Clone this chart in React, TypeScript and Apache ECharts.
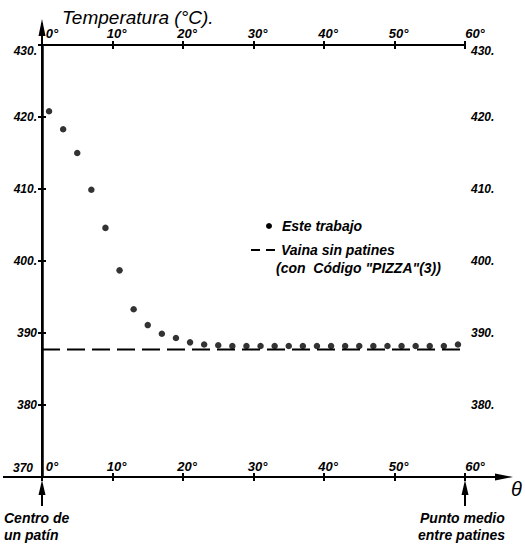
import React, { useEffect, useRef } from "react";
import * as echarts from "echarts";

// Angular position (degrees) and temperature (°C) — "Este trabajo"
const thetaDeg = [1, 3, 5, 7, 9, 11, 13, 15, 17, 19, 21, 23, 25, 27, 29, 31, 33, 35, 37, 39, 41, 43, 45, 47, 49, 51, 53, 55, 57, 59];
const tempC = [420.8, 418.3, 415.0, 409.9, 404.6, 398.7, 393.3, 391.1, 389.9, 389.3, 388.7, 388.4, 388.3, 388.2, 388.2, 388.2, 388.2, 388.2, 388.2, 388.2, 388.2, 388.2, 388.2, 388.2, 388.2, 388.2, 388.2, 388.2, 388.2, 388.4];
// "Vaina sin patines (con Código PIZZA)" reference temperature
const refTheta = [0, 60];
const refTemp = [387.7, 387.7];

const yTicks = [370, 380, 390, 400, 410, 420, 430];
const yLeftText = ["370", "380", "390", "400.", "410.", "420.", "430."];
const yRightText = ["", "380.", "390.", "400.", "410.", "420.", "430."];

const FONT = '"Liberation Sans", "DejaVu Sans", sans-serif';
const base = { color: "#000", fontFamily: FONT, fontStyle: "italic" as const, fontWeight: "bold" as const, fontSize: 13 };

const xFmt = (v: number) => (v === 0 || v === 60 ? `{e|${v}°}` : `{m|${v}°}`);
const xRich = { e: { ...base, padding: [0, 0, 0, 20] }, m: { ...base, padding: [0, 0, 0, 8] } };

const lineStyle = { color: "#000", width: 2 };

export default function App() {
  const ref = useRef<HTMLDivElement>(null);
  useEffect(() => {
    if (!ref.current) return;
    const chart = echarts.init(ref.current, undefined, { renderer: "svg" });
    const xCommon = { type: "value" as const, min: 0, max: 60, interval: 10, splitLine: { show: false } };
    const yCommon = { type: "value" as const, min: 370, max: 430, interval: 10, splitLine: { show: false } };
    const tickOnly = (inside: boolean) => ({
      axisLine: { show: false },
      axisLabel: { show: false },
      axisTick: { show: true, inside, length: 4, lineStyle },
    });
    const yRich = {
      n: { ...base, fontSize: 12 },
      top: { ...base, fontSize: 12, padding: [11, 0, 0, 0] },
      low: { ...base, fontSize: 12, padding: [0, 4, 18, 0] },
    };
    chart.setOption({
      animation: false,
      backgroundColor: "#fff",
      grid: { left: 42, right: 60, top: 45, bottom: 74, containLabel: false },
      xAxis: [
        {
          ...xCommon,
          position: "bottom",
          axisLine: { show: true, lineStyle },
          axisTick: { show: true, length: 4, lineStyle },
          axisLabel: { inside: true, margin: 4, formatter: xFmt, rich: xRich, showMinLabel: true, showMaxLabel: true },
        },
        { ...xCommon, position: "bottom", ...tickOnly(true) },
        {
          ...xCommon,
          position: "top",
          axisLine: { show: true, lineStyle },
          axisTick: { show: true, length: 4, lineStyle },
          axisLabel: { margin: 5, formatter: xFmt, rich: xRich, showMinLabel: true, showMaxLabel: true },
        },
        { ...xCommon, position: "top", ...tickOnly(true) },
      ],
      yAxis: [
        {
          ...yCommon,
          position: "left",
          axisLine: { show: true, lineStyle },
          axisTick: { show: true, length: 4, lineStyle },
          axisLabel: {
            margin: 5,
            showMinLabel: true,
            showMaxLabel: true,
            formatter: (v: number) => {
              const t = yLeftText[yTicks.indexOf(v)] ?? "";
              return v === 370 ? `{low|${t}}` : v === 430 ? `{top|${t}}` : `{n|${t}}`;
            },
            rich: yRich,
          },
        },
        { ...yCommon, position: "left", ...tickOnly(true) },
        {
          ...yCommon,
          position: "right",
          axisLine: { show: true, lineStyle: { color: "#000", width: 2.5 } },
          axisTick: { show: true, length: 4, lineStyle },
          axisLabel: {
            margin: 6,
            showMinLabel: true,
            showMaxLabel: true,
            formatter: (v: number) => {
              const t = yRightText[yTicks.indexOf(v)] ?? "";
              if (!t) return "";
              return v === 430 ? `{top|${t}}` : `{n|${t}}`;
            },
            rich: yRich,
          },
        },
        { ...yCommon, position: "right", ...tickOnly(true) },
      ],
      series: [
        {
          name: "Este trabajo",
          type: "scatter",
          xAxisIndex: 0,
          yAxisIndex: 0,
          symbolSize: 6.5,
          itemStyle: { color: "#000" },
          data: thetaDeg.map((t, i) => [t, tempC[i]]),
        },
        {
          name: "Vaina sin patines",
          type: "line",
          xAxisIndex: 0,
          yAxisIndex: 0,
          symbol: "none",
          lineStyle: { color: "#000", width: 2, type: [18, 7] },
          data: refTheta.map((t, i) => [t, refTemp[i]]),
        },
      ],
    });

    const [xL, yTop] = chart.convertToPixel({ xAxisIndex: 0, yAxisIndex: 0 }, [0, 430]) as number[];
    const [xR, yBot] = chart.convertToPixel({ xAxisIndex: 0, yAxisIndex: 0 }, [60, 370]) as number[];
    const blk = { stroke: "#000", lineWidth: 2 };
    const txt = (x: number, y: number, text: string, size = 14, weight = "bold", align = "left") => ({
      type: "text",
      x,
      y,
      style: { text, fill: "#000", font: `italic ${weight} ${size}px ${FONT}`, textAlign: align, textVerticalAlign: "middle" },
    });
    const upArrow = (x: number) => [
      { type: "line", shape: { x1: x, y1: yBot + 16, x2: x, y2: yBot + 29 }, style: blk },
      { type: "polygon", shape: { points: [[x, yBot + 3], [x - 3.5, yBot + 18], [x + 3.5, yBot + 18]] }, style: { fill: "#000" } },
    ];
    chart.setOption({
      graphic: [
        // vertical axis extension with arrow
        { type: "line", shape: { x1: xL, y1: yTop, x2: xL, y2: yTop - 22 }, style: blk },
        { type: "polygon", shape: { points: [[xL, yTop - 26], [xL - 3.5, yTop - 9], [xL + 3.5, yTop - 9]] }, style: { fill: "#000" } },
        // horizontal axis extensions
        { type: "line", shape: { x1: 3, y1: yBot, x2: xL, y2: yBot }, style: blk },
        { type: "line", shape: { x1: xR, y1: yBot, x2: xR + 34, y2: yBot }, style: blk },
        { type: "polygon", shape: { points: [[xR + 48, yBot], [xR + 30, yBot - 3.5], [xR + 30, yBot + 3.5]] }, style: { fill: "#000" } },
        txt(xR + 46, yBot + 12, "θ", 20, "normal"),
        ...upArrow(xL),
        ...upArrow(xR),
        txt(4, 518, "Centro de", 14),
        txt(4, 535, "un patín", 14),
        txt(420, 518, "Punto medio", 14),
        txt(418, 535, "entre patines", 14),
        txt(62, 17, "Temperatura (°C).", 19, "normal"),
        // legend
        { type: "circle", shape: { cx: 269, cy: 226, r: 3 }, style: { fill: "#000" } },
        txt(282, 226, "Este trabajo", 14),
        { type: "line", shape: { x1: 251, y1: 250, x2: 276, y2: 250 }, style: { stroke: "#000", lineWidth: 2, lineDash: [9, 6] } },
        txt(281, 250, "Vaina sin patines", 14),
        txt(276, 268, "(con  Código \"PIZZA\"(3))", 14),
      ],
    });
    return () => chart.dispose();
  }, []);
  return <div ref={ref} style={{ position: "fixed", left: 0, top: 0, width: 525, height: 551 }} />;
}
